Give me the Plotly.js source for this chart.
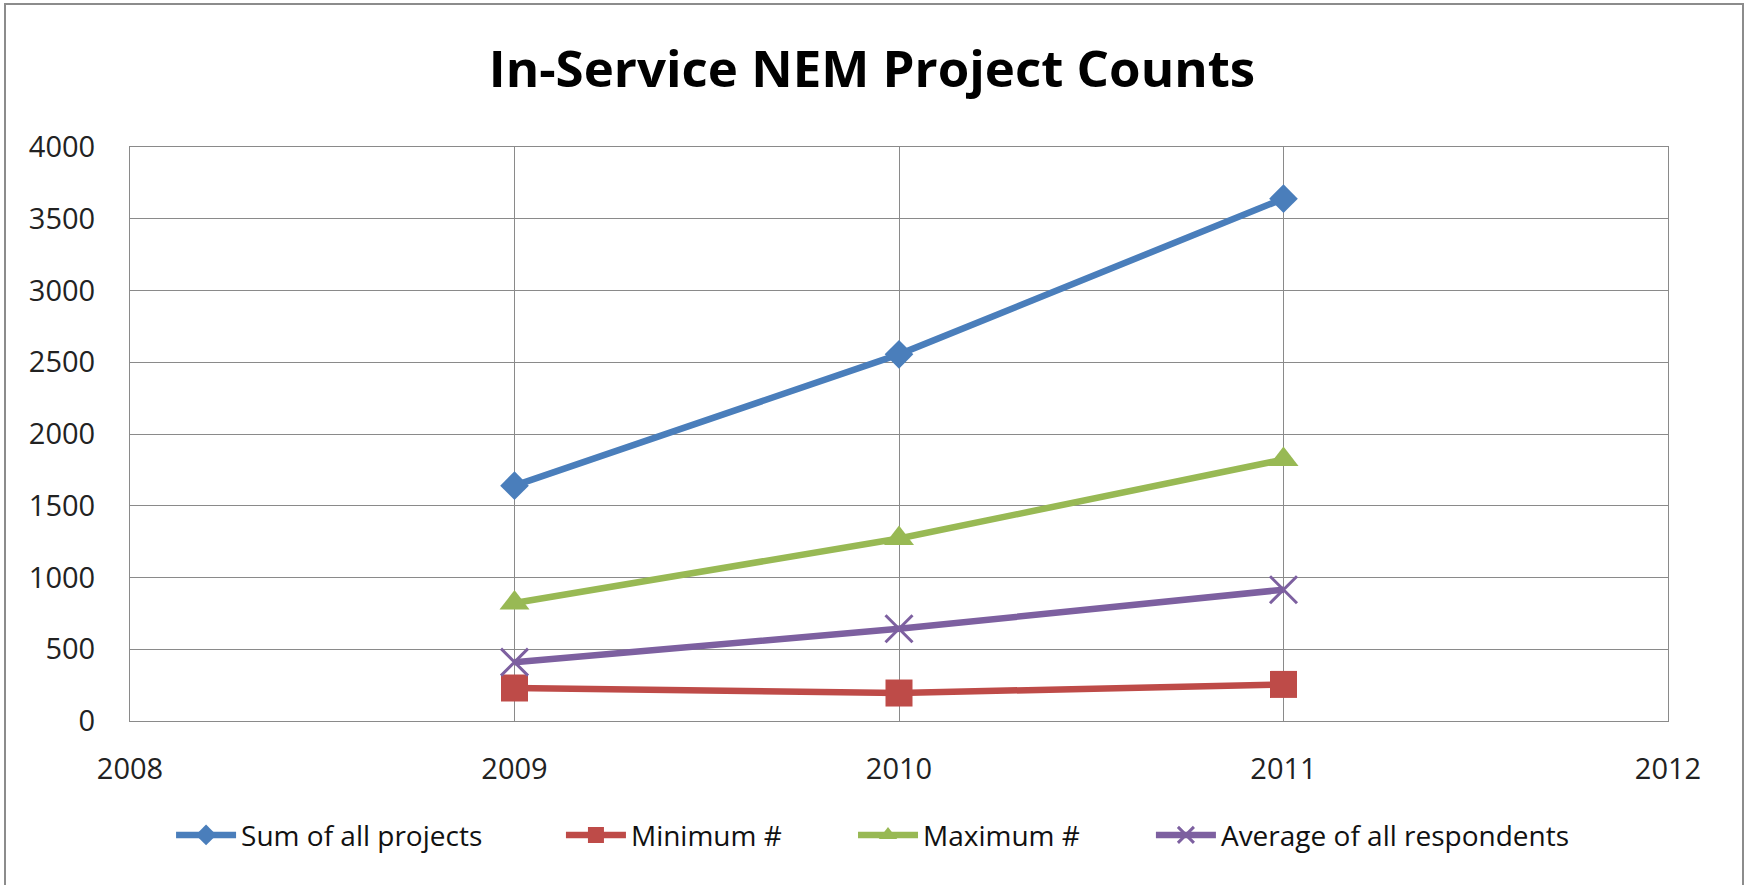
<!DOCTYPE html>
<html><head><meta charset="utf-8">
<script src="https://cdn.plot.ly/plotly-3.0.1.min.js"></script>
<style>html,body{margin:0;padding:0;background:#fff;}#wrap{position:relative;width:1744px;height:885px;}#chart{width:1744px;height:885px;}#frame{position:absolute;left:4px;top:3px;width:1736px;height:890px;border:2px solid #8c8c8c;pointer-events:none;}</style>
</head><body><div id="wrap"><div id="chart"></div><div id="frame"></div></div>
<script>
const years = [2009, 2010, 2011];
const sumAll = [1640, 2555, 3640];
const minimum = [230, 195, 255];
const maximum = [822, 1272, 1822];
const average = [410, 643, 915];
const seriesNames = ['Sum of all projects', 'Minimum #', 'Maximum #', 'Average of all respondents'];
const colors = ['#4A7EBB', '#BE4B48', '#98B954', '#7D60A0'];
const symbols = ['diamond', 'square', 'triangle-up', 'x-thin-open'];
const values = [sumAll, minimum, maximum, average];
const sizes = [22, 27, 26, 27];
const legendIds = ['legend', 'legend2', 'legend3', 'legend4'];
const legendX = [0.0267, 0.2802, 0.4701, 0.6638];

const traces = values.map((v, i) => ({
  x: years, y: v, name: seriesNames[i], type: 'scatter', mode: 'lines+markers',
  legend: legendIds[i],
  line: {color: colors[i], width: 6.5},
  marker: {symbol: symbols[i], size: sizes[i], color: colors[i], line: {color: colors[i], width: i === 3 ? 3 : 0}}
}));

const legendBase = {orientation: 'h', xanchor: 'left', y: -0.199, yanchor: 'middle',
  font: {size: 28, color: '#111', family: 'Open Sans, sans-serif'}, itemwidth: 60, bgcolor: 'rgba(0,0,0,0)'};

const layout = {
  width: 1744, height: 885,
  margin: {l: 130, r: 76, t: 147, b: 164},
  paper_bgcolor: '#fff', plot_bgcolor: '#fff',
  font: {family: 'Open Sans, sans-serif', color: '#000'},
  title: {text: '<b>In-Service NEM Project Counts</b>', x: 0.5, xanchor: 'center', y: 0.922, yanchor: 'middle',
          font: {size: 51, family: 'Open Sans, sans-serif', color: '#000'}},
  xaxis: {range: [2008, 2012], tickvals: [2008, 2009, 2010, 2011, 2012], ticktext: ['2008','2009','2010','2011','2012'],
          showgrid: true, gridcolor: '#8a8a8a', gridwidth: 1, zeroline: false,
          showline: true, linecolor: '#8a8a8a', linewidth: 1, mirror: true,
          ticks: '', tickfont: {size: 29, color: '#222'}, ticklabelstandoff: 22, fixedrange: true},
  yaxis: {range: [0, 4000], tickvals: [0,500,1000,1500,2000,2500,3000,3500,4000],
          showgrid: true, gridcolor: '#8a8a8a', gridwidth: 1, zeroline: false,
          showline: true, linecolor: '#8a8a8a', linewidth: 1, mirror: true,
          ticks: '', tickfont: {size: 29, color: '#222'}, ticklabelstandoff: 28, fixedrange: true},
  showlegend: true
};
legendIds.forEach((id, i) => { layout[id] = Object.assign({}, legendBase, {x: legendX[i]}); });
Plotly.newPlot('chart', traces, layout, {displayModeBar: false, staticPlot: true});
</script></body></html>
